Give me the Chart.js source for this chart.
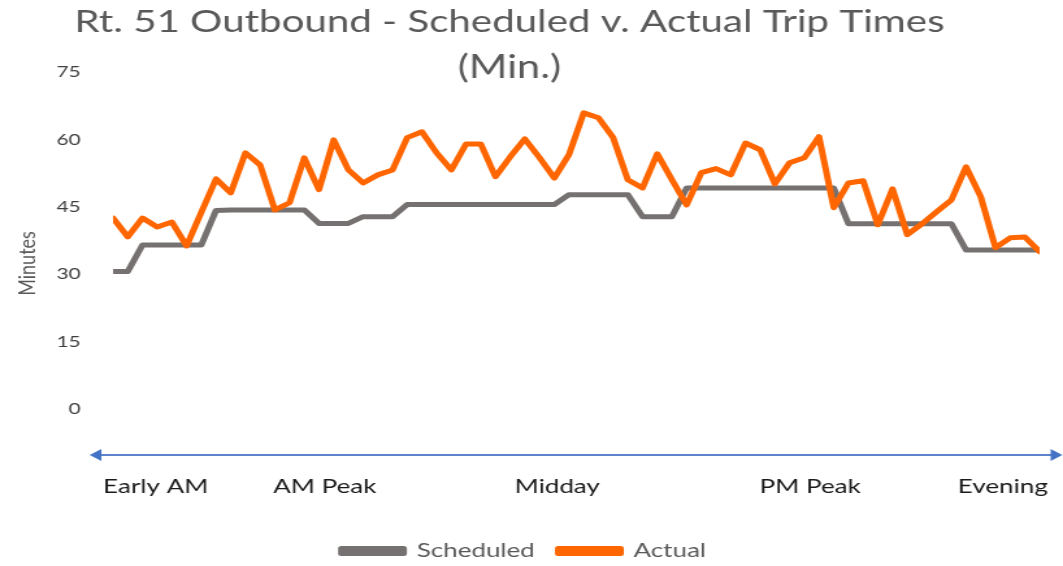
<!DOCTYPE html>
<html lang="en">
<head>
  <meta charset="UTF-8">
  <title>Rt. 51 Outbound - Scheduled v. Actual Trip Times</title>
  <script src="https://cdn.jsdelivr.net/npm/chart.js"></script>
  <style>
    html, body { margin: 0; padding: 0; background: #fff; overflow: hidden; }
    /* chart is laid out narrow and widened to fill the 1063px slot */
    #wrap { width: 818px; height: 566px; transform: scaleX(1.2995); transform-origin: 0 0; }
  </style>
</head>
<body>
  <div id="wrap"><canvas id="tripChart"></canvas></div>

  <script>
    // Trips through the day, in order
    const trips = [1, 2, 3, 4, 5, 6, 7, 8, 9, 10, 11, 12, 13, 14, 15, 16,
      17, 18, 19, 20, 21, 22, 23, 24, 25, 26, 27, 28, 29, 30, 31, 32,
      33, 34, 35, 36, 37, 38, 39, 40, 41, 42, 43, 44, 45, 46, 47, 48,
      49, 50, 51, 52, 53, 54, 55, 56, 57, 58, 59, 60, 61, 62, 63, 64];

    // Scheduled running time (min)
    const scheduled = [30.6, 30.6, 36.5, 36.5, 36.5, 36.5, 36.5, 44.2, 44.3, 44.3, 44.3, 44.3, 44.3, 44.3, 41.3, 41.3,
      41.3, 42.8, 42.8, 42.8, 45.5, 45.5, 45.5, 45.5, 45.5, 45.5, 45.5, 45.5, 45.5, 45.5, 45.5, 47.7,
      47.7, 47.7, 47.7, 47.7, 42.8, 42.8, 42.8, 49.2, 49.2, 49.2, 49.2, 49.2, 49.2, 49.2, 49.2, 49.2,
      49.2, 49.2, 41.2, 41.2, 41.2, 41.2, 41.2, 41.2, 41.2, 41.2, 35.4, 35.4, 35.4, 35.4, 35.4, 35.4];

    // Actual running time (min)
    const actual = [42.5, 38.3, 42.5, 40.5, 41.6, 36.3, 43.8, 51.2, 48.1, 57.0, 54.3, 44.3, 45.9, 55.9, 48.8, 59.9,
      53.2, 50.3, 52.1, 53.2, 60.4, 61.7, 57.0, 53.2, 59.0, 59.0, 51.7, 56.1, 60.1, 55.9, 51.4, 56.6,
      65.9, 64.8, 60.4, 51.0, 49.2, 56.8, 51.0, 45.4, 52.6, 53.5, 52.1, 59.2, 57.7, 50.1, 54.8, 55.9,
      60.6, 44.8, 50.3, 50.8, 41.0, 49.0, 38.8, 41.2, 43.9, 46.5, 53.9, 47.2, 35.9, 38.1, 38.3, 35.0];

    // Time-of-day bands along the trip axis
    const periodNames = ['Early AM', 'AM Peak', 'Midday', 'PM Peak', 'Evening'];
    const periodPos = [3.9, 15.4, 31.2, 48.4, 61.5];

    const yTicks = [0, 15, 30, 45, 60, 75];

    const titleLines = ['Rt. 51 Outbound - Scheduled v. Actual Trip Times', '(Min.)'];

    const FONT = 'Lato, "Open Sans", sans-serif';

    // two-line heading, drawn over the top of the plot
    const headingPlugin = {
      id: 'heading',
      afterDraw(chart) {
        const ctx = chart.ctx;
        ctx.save();
        ctx.fillStyle = '#595959';
        ctx.font = '31px ' + FONT;
        ctx.textAlign = 'center';
        ctx.textBaseline = 'middle';
        ctx.fillText(titleLines[0], 392, 22);
        ctx.font = '32px ' + FONT;
        ctx.fillText(titleLines[1], 392, 68);
        ctx.restore();
      }
    };

    // blue double-headed arrow under the plot
    const arrowPlugin = {
      id: 'timeArrow',
      afterDraw(chart) {
        const ctx = chart.ctx;
        const y = chart.chartArea.bottom;
        const x0 = chart.chartArea.left - 18;
        const x1 = chart.width - 0.5;
        ctx.save();
        ctx.strokeStyle = '#5B84CC';
        ctx.fillStyle = '#4472C4';
        ctx.lineWidth = 2;
        ctx.beginPath();
        ctx.moveTo(x0 + 6, y);
        ctx.lineTo(x1 - 6, y);
        ctx.stroke();
        ctx.beginPath();
        ctx.moveTo(x0, y);
        ctx.lineTo(x0 + 9, y - 6);
        ctx.lineTo(x0 + 9, y + 6);
        ctx.closePath();
        ctx.fill();
        ctx.beginPath();
        ctx.moveTo(x1, y);
        ctx.lineTo(x1 - 9, y - 6);
        ctx.lineTo(x1 - 9, y + 6);
        ctx.closePath();
        ctx.fill();
        ctx.restore();
      }
    };

    const ctx = document.getElementById('tripChart').getContext('2d');
    const tripChart = new Chart(ctx, {
      type: 'line',
      data: {
        labels: trips,
        datasets: [{
          label: 'Scheduled',
          data: scheduled,
          borderColor: '#767171',
          backgroundColor: '#767171',
          borderWidth: 5,
          pointRadius: 0,
          order: 1
        }, {
          label: 'Actual',
          data: actual,
          borderColor: '#FF6600',
          backgroundColor: '#FF6600',
          borderWidth: 5,
          pointRadius: 0,
          order: 0
        }]
      },
      options: {
        responsive: true,
        maintainAspectRatio: false,
        animation: false,
        layout: { padding: { top: 72, left: 6, right: 18, bottom: -5 } },
        elements: { line: { tension: 0, borderJoinStyle: 'round', borderCapStyle: 'round' } },
        scales: {
          x: {
            type: 'linear',
            min: 1,
            max: 64,
            afterBuildTicks: (scale) => { scale.ticks = periodPos.map(v => ({ value: v })); },
            afterFit: (scale) => {
              scale.height = 68;
              scale.paddingLeft = 0;
              scale.paddingRight = 0;
            },
            grid: { display: false, drawTicks: false },
            border: { display: false },
            ticks: {
              autoSkip: false,
              maxRotation: 0,
              padding: 20,
              color: '#1a1a1a',
              font: { family: FONT, size: 20 },
              callback: (v, i) => periodNames[i]
            }
          },
          y: {
            min: -10.24,
            max: 75,
            afterBuildTicks: (scale) => { scale.ticks = yTicks.map(v => ({ value: v })); },
            afterFit: (scale) => {
              scale.width = 81;
              scale.paddingTop = 0;
              scale.paddingBottom = 0;
            },
            grid: { display: false, drawTicks: false },
            border: { display: false },
            title: {
              display: true,
              text: 'Minutes',
              color: '#595959',
              font: { family: FONT, size: 18 }
            },
            ticks: {
              padding: 25,
              color: '#404040',
              font: { family: FONT, size: 16 }
            }
          }
        },
        plugins: {
          title: { display: false },
          tooltip: { enabled: false },
          legend: {
            position: 'bottom',
            labels: {
              boxWidth: 48,
              boxHeight: 5,
              padding: 18,
              color: '#595959',
              font: { family: FONT, size: 20 },
              sort: (a, b) => a.datasetIndex - b.datasetIndex
            }
          }
        }
      },
      plugins: [headingPlugin, arrowPlugin]
    });
  </script>
</body>
</html>
